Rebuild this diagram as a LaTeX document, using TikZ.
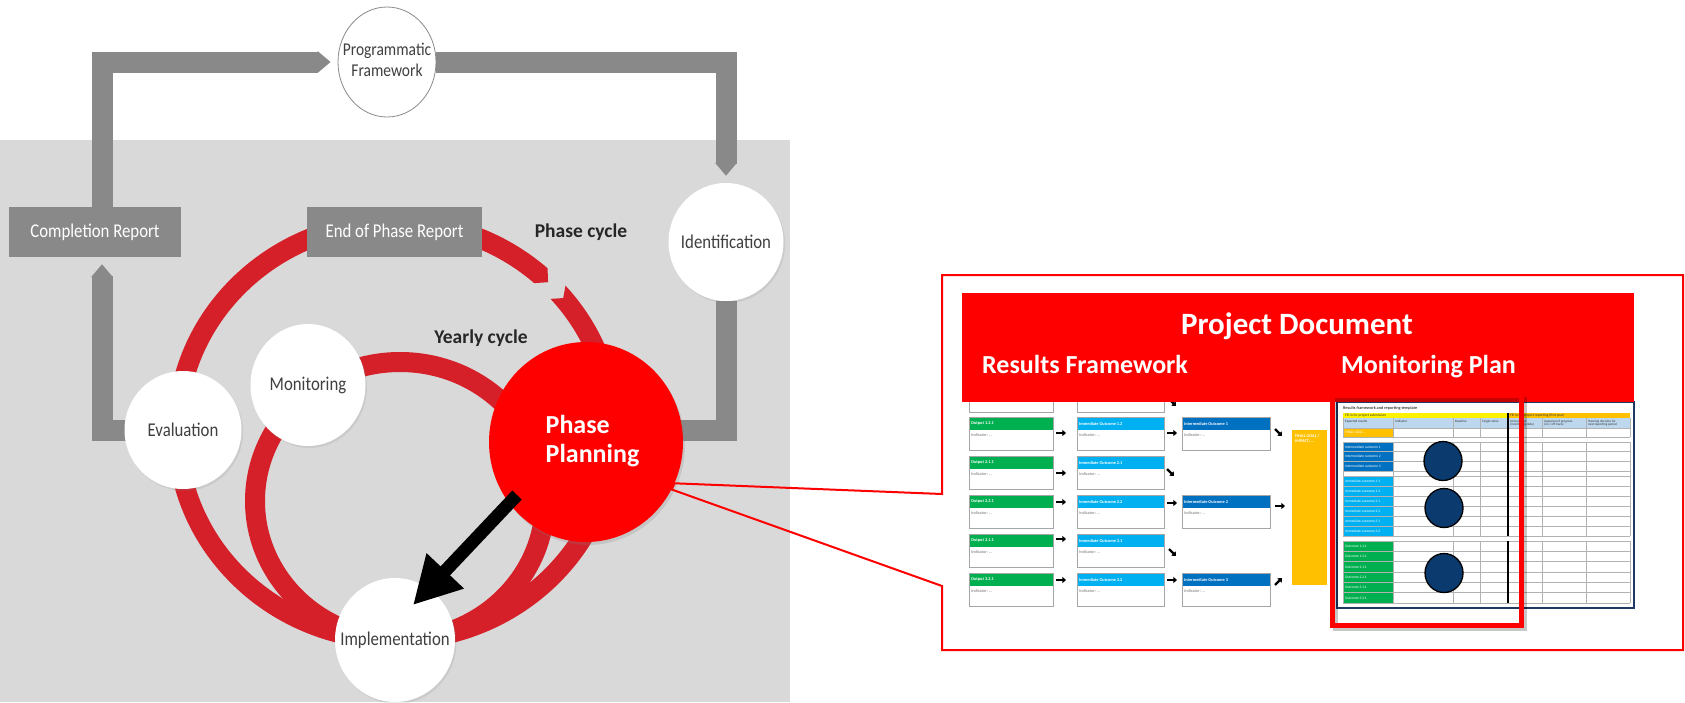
\documentclass[tikz,border=0pt]{standalone}
\usepackage{fontspec}
\setmainfont{Carlito}
\newfontfamily\condfont[FakeStretch=0.86]{Carlito}
\usetikzlibrary{arrows.meta,shapes.geometric,shadows}

\definecolor{ringred}{HTML}{D52029}
\definecolor{ppred}{HTML}{FF0000}
\definecolor{bargray}{HTML}{898989}
\definecolor{panelgray}{HTML}{D9D9D9}
\definecolor{labelgray}{HTML}{3F3F3F}
\definecolor{rfgreen}{HTML}{00B050}
\definecolor{rflight}{HTML}{00B0F0}
\definecolor{rfdark}{HTML}{0070C0}
\definecolor{rfyellow}{HTML}{FFC000}
\definecolor{tabnavy}{HTML}{1F3864}
\definecolor{dotblue}{HTML}{0B3A6E}
\definecolor{hdrblue}{HTML}{BDD7EE}

\pgfdeclarelayer{panel}
\pgfdeclarelayer{links}
\pgfsetlayers{panel,links,main}

% labels that do not widen their ellipse
\newcommand\ctr[1]{\makebox[0pt][c]{#1}}
\newcommand\twolines[3][c]{\makebox[0pt][c]{\begin{tabular}{@{}#1@{}}#2\\#3\end{tabular}}}

% one box of the results framework: name, left x, top y, width, colour, title
\newcommand\rfcell[6]{%
  \fill[#5] (#2,#3) rectangle ++(#4,13);
  \draw[rfframe] (#2,#3) rectangle ++(#4,33);
  \node[rfhead] (#1-h) at (#2+2,#3+6.5) {#6};
  \node[rfbody] (#1-b) at (#2+2,#3+18) {Indicator: ...};
}

\begin{document}
\begin{tikzpicture}[x=1pt,y=-1pt,
  stage/.style={ellipse, fill=white, inner sep=0pt, text=labelgray,
    font=\condfont\fontsize{19.5}{20}\selectfont},
  stageshadow/.style={drop shadow={shadow xshift=1.5pt, shadow yshift=-2pt, opacity=0.16}},
  report/.style={rectangle, fill=bargray, text=white, inner sep=0pt,
    minimum height=50pt, font=\condfont\fontsize{19.5}{21}\selectfont},
  cyclelabel/.style={inner sep=0pt, text=black!85,
    font=\bfseries\fontsize{19.5}{22}\selectfont},
  graybar/.style={draw=bargray, line width=21pt, line join=miter},
  bartip/.style={-{Triangle[length=13pt,width=21pt]}, shorten >=7pt},
  rfframe/.style={draw=black!35, line width=0.7pt},
  rfhead/.style={anchor=west, inner sep=0pt, text=white, font=\bfseries\fontsize{4.3}{5}\selectfont},
  rfbody/.style={anchor=west, inner sep=0pt, text=black!55, font=\fontsize{4.3}{5}\selectfont},
  tinyarrow/.style={line width=2.2pt, -{Triangle[length=3.6pt,width=6pt]}},
  mpgrid/.style={draw=black!30, line width=0.5pt},
  mptext/.style={anchor=west, inner sep=0pt, text=white, font=\fontsize{3.6}{4}\selectfont},
  mphead/.style={anchor=north west, inner sep=0pt, align=left, text=black!80, font=\fontsize{3.3}{3.8}\selectfont},
  dot/.style={ellipse, fill=dotblue, draw=black, line width=1.3pt, minimum width=38pt, minimum height=39pt, inner sep=0pt}
]
\useasboundingbox (0,0) rectangle (1685,702);

\begin{pgfonlayer}{panel}
  \fill[panelgray] (0,140) rectangle (790,702);
\end{pgfonlayer}

% ---- stages of the cycle ----
\node[stage, draw=bargray, line width=0.8pt, minimum width=98pt, minimum height=110pt,
  font=\condfont\fontsize{18}{20.5}\selectfont] (pf) at (387,62)
  {\twolines{Programmatic}{Framework}};
\node[stage, stageshadow, minimum width=115pt, minimum height=118pt] (ident) at (726,242) {\ctr{Identification}};
\node[stage, stageshadow, minimum width=117pt, minimum height=118pt] (eval) at (183,430) {\ctr{Evaluation}};
\node[stage, stageshadow, minimum width=115pt, minimum height=122pt] (mon) at (308,385) {\ctr{Monitoring}};
\node[stage, stageshadow, minimum width=120pt, minimum height=124pt] (impl) at (395,640) {\ctr{Implementation}};
\node[ellipse, fill=ppred, inner sep=0pt, minimum width=194pt, minimum height=200pt, text=white,
  drop shadow={shadow xshift=2pt, shadow yshift=-3pt, opacity=0.22},
  font=\bfseries\fontsize{26}{29}\selectfont] (pp) at (586,442)
  {\makebox[0pt][c]{\hspace{13pt}\begin{tabular}{@{}l@{}}Phase\\Planning\end{tabular}}};

\node[report, minimum width=172pt] (cr) at (95,232) {Completion Report};
\node[report, minimum width=175pt] (eopr) at (394.5,232) {End of Phase Report};

\node[cyclelabel] (phasecyc) at (581,232) {Phase cycle};
\node[cyclelabel] (yearcyc) at (481,338) {Yearly cycle};

\coordinate (ppjoin) at (600,430);

\begin{pgfonlayer}{links}
  % grey programme loop
  \draw[graybar, bartip] ([xshift=7pt]cr.north) |- (pf.west);
  \draw[graybar, bartip] (pf.east) -| (ident.north);
  \draw[graybar] (ident.south) |- (ppjoin);
  \draw[graybar, bartip] (eval.center) -| ([xshift=7pt]cr.south);
  % phase cycle: one elliptic band with a chevron break
  \begin{scope}[shift={(395,431)}]
    \fill[ringred] (-41.6:228 and 219)
      arc[start angle=-41.6, end angle=312, x radius=228, y radius=219]
      -- (314.6:218 and 209) -- (312:208 and 199)
      arc[start angle=312, end angle=-41.6, x radius=208, y radius=199]
      -- (-39.5:218 and 209) -- cycle;
  \end{scope}
  % yearly cycle
  \draw[ringred, line width=20pt] (400,501) ellipse[x radius=145, y radius=139];
\end{pgfonlayer}

% planning leads to implementation
\coordinate (arrowfrom) at (517,495);
\coordinate (arrowto) at (413,605);
\draw[line width=13pt, -{Triangle[length=47pt,width=48pt]}] (arrowfrom) -- (arrowto);

% ---- call-out with the project document ----
\coordinate (callA) at (942,494);
\coordinate (callB) at (942,586);
\draw[ppred, line width=2pt, line join=miter]
  (callA) -- (pp.-25) -- (pp.-29) -- (callB) -- (942,650) -- (1683,650) -- (1683,275) -- (942,275) -- cycle;

% results framework sketch
\draw[rfframe] (969,390) rectangle (1053,412);
\draw[rfframe] (1077,390) rectangle (1164,412);
\rfcell{o121}{969}{417}{84}{rfgreen}{Output 1.2.1}
\rfcell{i12}{1077}{417}{87}{rflight}{Immediate Outcome 1.2}
\rfcell{m1}{1182}{417}{88}{rfdark}{Intermediate Outcome 1}
\rfcell{o211}{969}{456}{84}{rfgreen}{Output 2.1.1}
\rfcell{i21}{1077}{456}{87}{rflight}{Immediate Outcome 2.1}
\rfcell{o221}{969}{495}{84}{rfgreen}{Output 2.2.1}
\rfcell{i22}{1077}{495}{87}{rflight}{Immediate Outcome 2.2}
\rfcell{m2}{1182}{495}{88}{rfdark}{Intermediate Outcome 2}
\rfcell{o311}{969}{534}{84}{rfgreen}{Output 3.1.1}
\rfcell{i31}{1077}{534}{87}{rflight}{Immediate Outcome 3.1}
\rfcell{o321}{969}{573}{84}{rfgreen}{Output 3.2.1}
\rfcell{i32}{1077}{573}{87}{rflight}{Immediate Outcome 3.2}
\rfcell{m3}{1182}{573}{88}{rfdark}{Intermediate Outcome 3}

\fill[rfyellow] (1292,430) rectangle (1327,585);
\node[anchor=north west, inner sep=0pt, align=left, text=white, font=\bfseries\fontsize{4.3}{5.5}\selectfont]
  (goal) at (1295,434) {FINAL GOAL /\\IMPACT: ...};

% small flow arrows
\foreach \yy in {433,473,502,539,580} \draw[tinyarrow] (1056,\yy) -- (1066,\yy);
\foreach \yy in {433,503,580} \draw[tinyarrow] (1167,\yy) -- (1177,\yy);
\foreach \xx/\yy in {1169/399,1167/469,1169/549} \draw[tinyarrow] (\xx,\yy) -- ++(7,7);
\draw[tinyarrow] (1275,429) -- ++(7,7);
\draw[tinyarrow] (1275,506) -- ++(10,0);
\draw[tinyarrow] (1275,585) -- ++(7,-7);

% monitoring plan sheet
\draw[tabnavy, line width=1.5pt, fill=white] (1337,402) rectangle (1634,608);
\node[anchor=west, inner sep=0pt, font=\fontsize{4.3}{5}\selectfont] (mpname) at (1343,408)
  {Results framework and reporting template};
\fill[yellow] (1343,413) rectangle (1508,418);
\fill[rfyellow] (1508,413) rectangle (1630,418);
\node[mptext, text=black!80] (mpsub) at (1345,415.5) {Fill in for project submission};
\node[mptext, text=black!80] (mprep) at (1510,415.5) {Fill in for project reporting (first year)};
\fill[hdrblue] (1343,418) rectangle (1630,428);
\node[mphead] (c1) at (1345,419.5) {Expected results};
\node[mphead] (c2) at (1395,419.5) {Indicator};
\node[mphead] (c3) at (1455,419.5) {Baseline};
\node[mphead] (c4) at (1482,419.5) {Target value};
\node[mphead] (c5) at (1510,419.5) {Actual value\\(monitoring data)};
\node[mphead] (c6) at (1544,419.5) {Appraisal of progress\\(on / off track)};
\node[mphead] (c7) at (1588,419.5) {Steering decision for\\next reporting period};
\fill[rfyellow] (1343,428) rectangle (1393,437);
\node[mptext] (fg) at (1345,432.5) {FINAL GOAL ...};
\draw[mpgrid] (1343,428) -- (1630,428) (1343,437) -- (1630,437);
\foreach \xx in {1343,1393,1453,1480,1542,1586,1630} \draw[mpgrid] (\xx,418) -- (\xx,437);

% block of intermediate and immediate outcomes
\foreach \i/\t in {0/Intermediate outcome 1,1/Intermediate outcome 2,2/Intermediate outcome 3} {
  \fill[rfdark] (1343,442+\i*9.67) rectangle (1393,451.67+\i*9.67);
  \node[mptext] (md\i) at (1345,446.8+\i*9.67) {\t};
}
\foreach \i/\t in {0/1.1,1/1.2,2/2.1,3/2.2,4/3.1,5/3.2} {
  \fill[rflight] (1343,476+\i*10) rectangle (1393,486+\i*10);
  \node[mptext] (ml\i) at (1345,481+\i*10) {Immediate outcome \t};
}
\foreach \yy in {442,451.67,461.33,471,476,486,496,506,516,526,536} \draw[mpgrid] (1343,\yy) -- (1630,\yy);
\foreach \xx in {1343,1393,1453,1480,1542,1586,1630} \draw[mpgrid] (\xx,442) -- (\xx,536);

% block of outputs
\foreach \i/\t in {0/1.1.1,1/1.2.1,2/2.1.1,3/2.2.1,4/3.1.1,5/3.2.1} {
  \fill[rfgreen] (1343,541+\i*10.33) rectangle (1393,551.33+\i*10.33);
  \node[mptext] (mg\i) at (1345,546.2+\i*10.33) {Outcome \t};
}
\foreach \i in {0,...,6} \draw[mpgrid] (1343,541+\i*10.33) -- (1630,541+\i*10.33);
\foreach \xx in {1343,1393,1453,1480,1542,1586,1630} \draw[mpgrid] (\xx,541) -- (\xx,603);
\draw[black, line width=1.2pt] (1508,413) -- (1508,536) (1508,541) -- (1508,603);

\node[dot] (dot1) at (1443,461) {};
\node[dot] (dot2) at (1444,508) {};
\node[dot] (dot3) at (1444,573) {};

% red banner of the project document
\fill[ppred] (962,293) rectangle (1634,402);
\node[anchor=base, inner sep=0pt, text=white, font=\bfseries\fontsize{31}{34}\selectfont] (pdtitle) at (1297,334) {Project Document};
\node[anchor=base west, inner sep=0pt, text=white, font=\bfseries\fontsize{26}{30}\selectfont] (rftitle) at (982,373) {Results Framework};
\node[anchor=base west, inner sep=0pt, text=white, font=\bfseries\fontsize{26}{30}\selectfont] (mptitle) at (1341,373) {Monitoring Plan};

% highlight of the monitoring columns
\draw[black, opacity=0.22, line width=5pt] (1335,399) rectangle (1524.5,628.5);
\draw[ppred, line width=5pt] (1332.5,395.5) rectangle (1521.5,625.5);
\end{tikzpicture}
\end{document}
